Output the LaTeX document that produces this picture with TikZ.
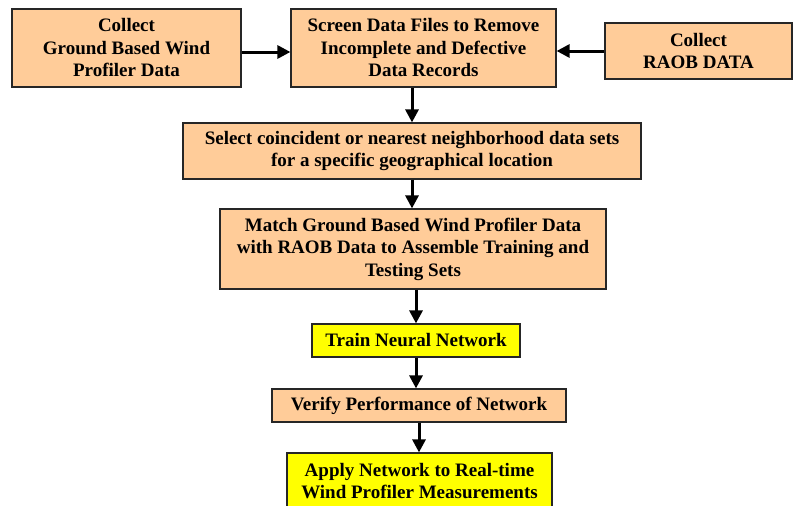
\documentclass[tikz,border=0pt]{standalone}
\usepackage{fontspec}
\setmainfont{Liberation Serif}
\usepackage{xcolor}
\usetikzlibrary{arrows.meta}

\definecolor{peach}{HTML}{FFCC99}
\definecolor{hilite}{HTML}{FFFF00}

\begin{document}
\begin{tikzpicture}[x=1pt,y=-1pt,
    stepbox/.style={draw=black!85,line width=1.2pt,fill=peach,align=center,
      inner sep=0pt,font=\fontsize{19}{22.5}\selectfont\bfseries},
    hibox/.style={stepbox,fill=hilite},
    flow/.style={-{Triangle[length=13pt,width=13pt]},line width=3pt}]
      \useasboundingbox (0,0) rectangle (798,506);
      \node [stepbox,minimum width=229,minimum height=78] (collectwp) at (126.5,48)
        {Collect\\Ground Based Wind\\Profiler Data};
      \node [stepbox,minimum width=265,minimum height=78] (screen) at (423.5,48)
        {Screen Data Files to Remove\\Incomplete and Defective\\Data Records};
      \node [stepbox,minimum width=187,minimum height=56] (collectraob) at (698.5,51)
        {Collect\\RAOB DATA};
      \node [stepbox,minimum width=458,minimum height=56] (select) at (412,151)
        {Select coincident or nearest neighborhood data sets\\for a specific geographical location};
      \node [stepbox,minimum width=386,minimum height=80] (match) at (413,249)
        {Match Ground Based Wind Profiler Data\\with RAOB Data to Assemble Training and\\Testing Sets};
      \node [hibox,minimum width=208,minimum height=33] (train) at (416,340.5)
        {Train Neural Network};
      \node [stepbox,minimum width=294,minimum height=33] (verify) at (419,405.5)
        {Verify Performance of Network};
      \node [hibox,minimum width=265,minimum height=56] (apply) at (419.5,481)
        {Apply Network to Real-time\\Wind Profiler Measurements};
      \draw [flow] ([yshift=-4]collectwp.east) -- ([yshift=-4]screen.west);
      \draw [flow] (collectraob.west) -- ([yshift=-3]screen.east);
      \draw [flow] (screen.south -| select.north) -- (select.north);
      \draw [flow] (select.south) -- (match.north -| select.south);
      \draw [flow] (match.south -| train.north) -- (train.north);
      \draw [flow] (train.south) -- (train.south |- verify.north);
      \draw [flow] (verify.south) -- (apply.north -| verify.south);
    \end{tikzpicture}
\end{document}
